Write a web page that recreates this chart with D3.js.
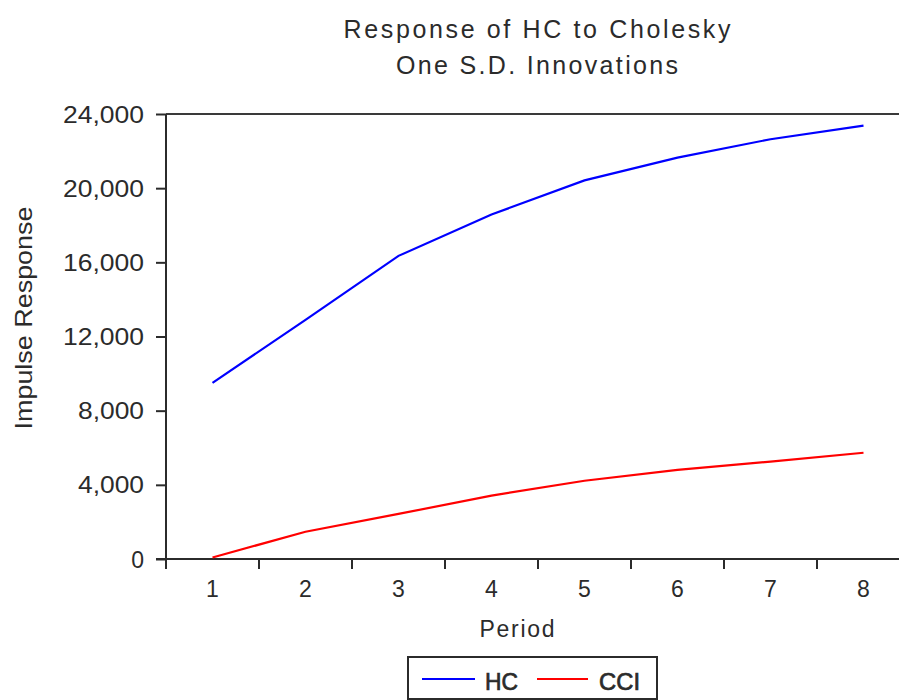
<!DOCTYPE html>
<html>
<head>
<meta charset="utf-8">
<script src="https://cdn.jsdelivr.net/npm/d3@7"></script>
<style>
  html, body { margin: 0; padding: 0; background: #fff; }
  svg { display: block; }
  text { font-family: "Liberation Sans", Arial, sans-serif; fill: #2b2b2b; }
</style>
</head>
<body>
<svg id="chart" width="899" height="700"></svg>
<script>
// ---- data ----
const periods = [1, 2, 3, 4, 5, 6, 7, 8];
const hcValues = [9500, 12900, 16350, 18580, 20420, 21650, 22640, 23370];
const cciValues = [80, 1470, 2430, 3420, 4220, 4810, 5250, 5730];
const seriesNames = ["HC", "CCI"];
const seriesColors = ["#0000ff", "#ff0000"];
const yTicks = [0, 4000, 8000, 12000, 16000, 20000, 24000];
const titleLines = ["Response of HC to Cholesky", "One S.D. Innovations"];
const xTitle = "Period";
const yTitle = "Impulse Response";

// ---- layout ----
const svg = d3.select("#chart");
const plotLeft = 166, plotRight = 910, plotTop = 114, plotBottom = 559;

const x = d3.scaleBand().domain(periods).range([plotLeft, plotRight]).padding(0);
const y = d3.scaleLinear().domain([0, 24000]).range([plotBottom, plotTop]);
const cx = d => x(d) + x.bandwidth() / 2;

// frame (top line)
svg.append("line")
  .attr("x1", plotLeft).attr("x2", plotRight).attr("y1", plotTop).attr("y2", plotTop)
  .attr("stroke", "#3a3a3a").attr("stroke-width", 2);

// y axis
const yAxis = svg.append("g")
  .attr("transform", `translate(${plotLeft},0)`)
  .call(d3.axisLeft(y).tickValues(yTicks).tickSize(10).tickPadding(12)
        .tickFormat(d3.format(",")));
yAxis.select(".domain").attr("stroke", "#2b2b2b").attr("stroke-width", 2)
  .attr("d", `M0,${plotTop}V${plotBottom + 10}`);
yAxis.selectAll(".tick line").attr("stroke", "#2b2b2b").attr("stroke-width", 2);
yAxis.selectAll(".tick text")
  .attr("font-size", 23)
  .attr("fill", "#2b2b2b")
  .attr("dy", "0.35em")
  .style("font-family", '"Liberation Sans", Arial, sans-serif')
  .each(function(d) {
    const s = d3.format(",")(d);
    if (s.length === 6) d3.select(this).attr("textLength", 81).attr("lengthAdjust", "spacingAndGlyphs");
    else if (s.length === 5) d3.select(this).attr("textLength", 66).attr("lengthAdjust", "spacingAndGlyphs");
  });

// x axis baseline
svg.append("line")
  .attr("x1", plotLeft - 10).attr("x2", plotRight).attr("y1", plotBottom).attr("y2", plotBottom)
  .attr("stroke", "#2b2b2b").attr("stroke-width", 2);

// x ticks at band boundaries
const boundaries = periods.map(p => x(p)).concat([x.range()[1]]);
svg.append("g").selectAll("line").data(boundaries).join("line")
  .attr("x1", d => d).attr("x2", d => d)
  .attr("y1", plotBottom).attr("y2", plotBottom + 10)
  .attr("stroke", "#2b2b2b").attr("stroke-width", 2);

// x tick labels
svg.append("g").selectAll("text").data(periods).join("text")
  .attr("x", d => cx(d)).attr("y", 597)
  .attr("text-anchor", "middle").attr("font-size", 23)
  .text(d => d);

// lines
const line = d3.line().x((d, i) => cx(periods[i])).y(d => y(d));
[hcValues, cciValues].forEach((vals, i) => {
  svg.append("path").datum(vals)
    .attr("d", line)
    .attr("fill", "none")
    .attr("stroke", seriesColors[i])
    .attr("stroke-width", 2.2);
});

// title
svg.append("text").attr("x", 537).attr("y", 38).attr("text-anchor", "middle")
  .attr("font-size", 25).attr("textLength", 387).attr("lengthAdjust", "spacing")
  .text(titleLines[0]);
svg.append("text").attr("x", 537).attr("y", 74).attr("text-anchor", "middle")
  .attr("font-size", 25).attr("textLength", 282).attr("lengthAdjust", "spacing")
  .text(titleLines[1]);

// axis titles
svg.append("text").attr("x", 517).attr("y", 637).attr("text-anchor", "middle")
  .attr("font-size", 23).attr("textLength", 75).attr("lengthAdjust", "spacing")
  .text(xTitle);
svg.append("text")
  .attr("transform", `translate(32,318) rotate(-90)`)
  .attr("text-anchor", "middle")
  .attr("font-size", 24).attr("textLength", 223).attr("lengthAdjust", "spacingAndGlyphs")
  .text(yTitle);

// legend
const lg = svg.append("g");
lg.append("rect").attr("x", 408).attr("y", 657).attr("width", 249).attr("height", 42)
  .attr("fill", "#fff").attr("stroke", "#2b2b2b").attr("stroke-width", 2);
const legendItems = [
  {x1: 422, x2: 475, tx: 485, tw: 33},
  {x1: 537, x2: 588, tx: 599, tw: 41}
];
legendItems.forEach((it, i) => {
  lg.append("line").attr("x1", it.x1).attr("x2", it.x2).attr("y1", 679).attr("y2", 679)
    .attr("stroke", seriesColors[i]).attr("stroke-width", 2);
  lg.append("text").attr("x", it.tx).attr("y", 690)
    .attr("font-size", 24)
    .attr("stroke", "#2b2b2b").attr("stroke-width", 0.7)
    .attr("textLength", it.tw).attr("lengthAdjust", "spacingAndGlyphs")
    .text(seriesNames[i]);
});
</script>
</body>
</html>
